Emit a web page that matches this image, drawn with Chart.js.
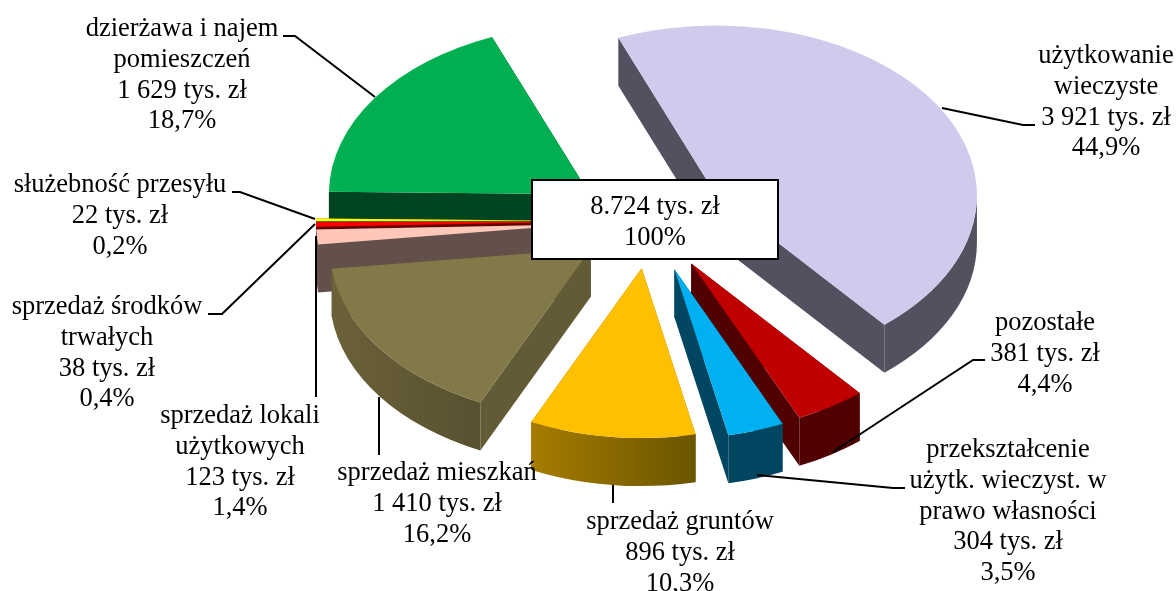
<!DOCTYPE html>
<html>
<head>
<meta charset="utf-8">
<title>Dochody</title>
<script src="https://cdn.jsdelivr.net/npm/chart.js@4/dist/chart.umd.min.js"></script>
<style>
html,body{margin:0;padding:0;background:#fff;overflow:hidden}
canvas{display:block}
</style>
</head>
<body>
<canvas id="pie" width="1176" height="591"></canvas>
<script>
// dane
var categories = [
  ["użytkowanie","wieczyste"],
  ["pozostałe"],
  ["przekształcenie","użytk. wieczyst. w","prawo własności"],
  ["sprzedaż gruntów"],
  ["sprzedaż mieszkań"],
  ["sprzedaż lokali","użytkowych"],
  ["sprzedaż środków","trwałych"],
  ["służebność przesyłu"],
  ["dzierżawa i najem","pomieszczeń"]
];
var values = [3921,381,304,896,1410,123,38,22,1629];
var amounts = ["3 921","381","304","896","1 410","123","38","22","1 629"];
var percents = ["44,9%","4,4%","3,5%","10,3%","16,2%","1,4%","0,4%","0,2%","18,7%"];
var totalLines = ["8.724 tys. zł","100%"];

// wyglad
var topColors = ["#CFCBEC","#C00000","#00B0F0","#FFC000","#827948","#FFC7B9","#FF0000","#FFFF00","#00B050"];
var wallColors = ["#535060","#500000","#004660","#8A6800","#635A36","#63504A","#660000","#666600","#014421"];
var wallLeft = ["#535060","#500000","#004660","#A67C00","#6B6239","#63504A","#660000","#666600","#014421"];
var wallRight = ["#535060","#500000","#004660","#6B5500","#585030","#63504A","#660000","#666600","#014421"];
var explode = [76,76,77,72,72,72,72,72,72];

var originX = 650, originY = 221, squashX = 1.015, squashY = 0.66, depth = 48;

// srodek tekstu: x, linia bazowa pierwszego wiersza
var labelPos = [[1106,63],[1045,330],[1008,457],[680,529],[437,480],[240,423],[107,314],[120,192],[182,36]];
var leaders = [
  [[942,108],[1023,125],[1035,125]],
  [[833,452],[973,360],[985,360]],
  [[757,475],[893,488],[905,488]],
  [[613,485],[613,503]],
  [[379,397],[379,455]],
  [[316,236],[316,397]],
  [[315,224],[222,314],[208,314]],
  [[315,219],[240,192],[232,192]],
  [[375,97],[295,36],[283,36]]
];
var lineStep = 30.8;
var fontText = "26.5px 'Liberation Serif'";

function drawSlice(ctx, arc, i){
  var s = arc.startAngle, e = arc.endAngle, mid = (s + e) / 2;
  var off = explode[i];
  var rx = arc.outerRadius * squashX, ry = arc.outerRadius * squashY;
  var cx = originX + Math.cos(mid) * off * squashX;
  var cy = originY + Math.sin(mid) * off * squashY;

  // sciany po przekrojach
  ctx.fillStyle = wallColors[i];
  [s, e].forEach(function(a){
    var px = cx + Math.cos(a) * rx, py = cy + Math.sin(a) * ry;
    ctx.beginPath();
    ctx.moveTo(cx, cy);
    ctx.lineTo(px, py);
    ctx.lineTo(px, py + depth);
    ctx.lineTo(cx, cy + depth);
    ctx.closePath();
    ctx.fill();
  });

  // zewnetrzna sciana, tylko przednia polowa
  for (var k = 0; k < 2; k++) {
    var lo = Math.max(s, k * 2 * Math.PI), hi = Math.min(e, k * 2 * Math.PI + Math.PI);
    if (hi <= lo) continue;
    var x1 = cx + Math.cos(lo) * rx, x2 = cx + Math.cos(hi) * rx;
    var grad = ctx.createLinearGradient(Math.min(x1,x2), 0, Math.max(x1,x2) + 0.01, 0);
    grad.addColorStop(0, wallLeft[i]);
    grad.addColorStop(1, wallRight[i]);
    ctx.fillStyle = grad;
    ctx.beginPath();
    ctx.ellipse(cx, cy, rx, ry, 0, lo, hi);
    ctx.ellipse(cx, cy + depth, rx, ry, 0, hi, lo, true);
    ctx.closePath();
    ctx.fill();
  }

  ctx.fillStyle = topColors[i];
  ctx.beginPath();
  ctx.moveTo(cx, cy);
  ctx.ellipse(cx, cy, rx, ry, 0, s, e);
  ctx.closePath();
  ctx.fill();
}

var pie3d = {
  id: "pie3d",
  beforeDatasetDraw: function(chart, args){
    var ctx = chart.ctx;
    var arcs = chart.getDatasetMeta(args.index).data;
    // kolejnosc od tylu do przodu
    var order = arcs.map(function(a, i){ return i; });
    order.sort(function(a, b){
      var ma = (arcs[a].startAngle + arcs[a].endAngle) / 2;
      var mb = (arcs[b].startAngle + arcs[b].endAngle) / 2;
      return Math.sin(ma) * explode[a] - Math.sin(mb) * explode[b];
    });
    ctx.save();
    order.forEach(function(i){ drawSlice(ctx, arcs[i], i); });
    ctx.restore();
    return false;
  },
  afterDraw: function(chart){
    var ctx = chart.ctx;
    ctx.save();
    ctx.strokeStyle = "#000";
    ctx.lineWidth = 2;
    leaders.forEach(function(pts){
      ctx.beginPath();
      pts.forEach(function(p, n){ n ? ctx.lineTo(p[0], p[1]) : ctx.moveTo(p[0], p[1]); });
      ctx.stroke();
    });

    ctx.fillStyle = "#fff";
    ctx.fillRect(532, 180, 246, 79);
    ctx.strokeRect(532, 180, 246, 79);

    ctx.fillStyle = "#000";
    ctx.font = fontText;
    ctx.textAlign = "center";
    ctx.textBaseline = "alphabetic";
    categories.forEach(function(name, i){
      var lines = name.concat([amounts[i] + " tys. zł", percents[i]]);
      lines.forEach(function(t, n){
        ctx.fillText(t, labelPos[i][0], labelPos[i][1] + n * lineStep);
      });
    });
    totalLines.forEach(function(t, n){
      ctx.fillText(t, 655, 214 + n * lineStep);
    });
    ctx.restore();
  }
};

new Chart(document.getElementById("pie").getContext("2d"), {
  type: "pie",
  data: {
    labels: categories.map(function(c){ return c.join(" "); }),
    datasets: [{
      data: values,
      backgroundColor: topColors,
      borderWidth: 0,
      offset: explode
    }]
  },
  options: {
    responsive: false,
    animation: false,
    rotation: -22,
    layout: { padding: 0 },
    plugins: { legend: { display: false }, tooltip: { enabled: false } }
  },
  plugins: [pie3d]
});
</script>
</body>
</html>
